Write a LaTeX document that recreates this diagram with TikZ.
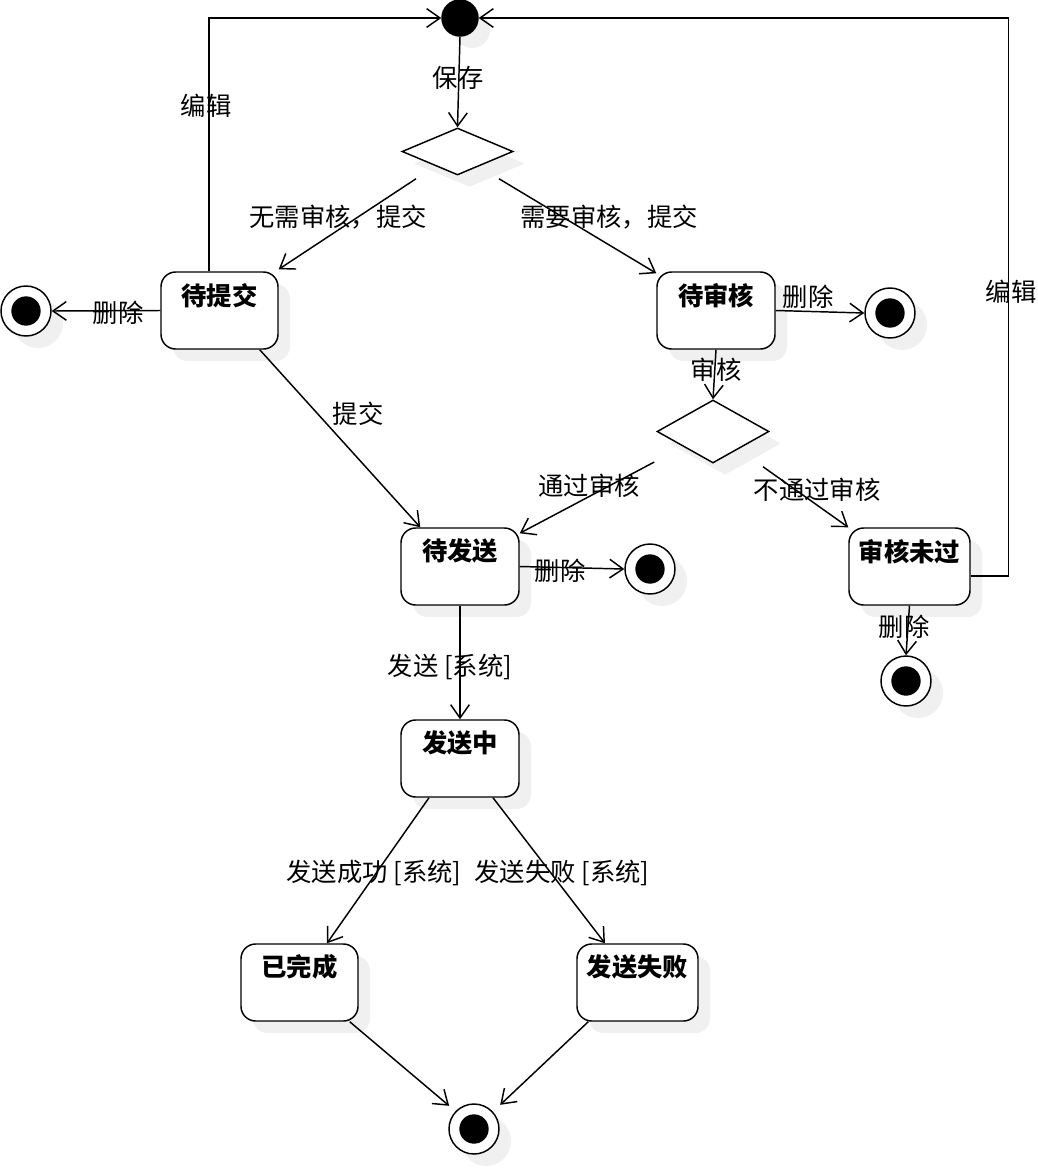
\documentclass[tikz,border=0pt]{standalone}
\usepackage{fontspec}
\setmainfont{Noto Sans CJK SC}
\usetikzlibrary{arrows.meta,shapes.geometric,shadows}
\begin{document}
\fontsize{19}{23}\selectfont
\begin{tikzpicture}[x=0.75pt,y=-0.75pt,line width=1.1pt,
  shd/.style={drop shadow={shadow xshift=9pt,shadow yshift=-9pt,fill=black!6,opacity=1,draw=none}},
  state/.style={draw,fill=white,rounded corners=11pt,minimum height=57.75pt,inner sep=0pt,shd},
  ttl/.style={font=\fontsize{19}{23}\selectfont\bfseries,anchor=center,yshift=-18pt,inner sep=0pt},
  initc/.style={circle,fill=black,draw,minimum size=27pt,inner sep=0pt,shd},
  finalc/.style={circle,draw,fill=white,minimum size=37.5pt,inner sep=0pt,shd,
    path picture={\fill[black] (path picture bounding box.center) circle (11pt);}},
  choice/.style={diamond,draw,fill=white,inner sep=0pt,shd},
  tr/.style={-{Straight Barb[length=10pt,width=14pt]}},
  lbl/.style={inner sep=0pt}]
\useasboundingbox (0,0) rectangle (1038,1168);
% nodes
\node[initc] (s0) at (460,18) {};
\node[choice,minimum width=83.25pt,minimum height=35.25pt] (d1) at (457.5,151.5) {};
\node[state,minimum width=87.75pt,label={[ttl]north:待提交}] (tj) at (219.5,310.5) {};
\node[state,minimum width=88.5pt,label={[ttl]north:待审核}] (ts) at (716,310.5) {};
\node[choice,minimum width=84pt,minimum height=47.25pt] (d2) at (713,431.5) {};
\node[state,minimum width=88.5pt,label={[ttl]north:待发送}] (tf) at (460,566.5) {};
\node[state,minimum width=90.75pt,label={[ttl]north:审核未过}] (wg) at (909.5,566.5) {};
\node[state,minimum width=88.5pt,label={[ttl]north:发送中}] (fz) at (460,758.5) {};
\node[state,minimum width=87.75pt,label={[ttl]north:已完成}] (wc) at (299.5,982.5) {};
\node[state,minimum width=90.75pt,label={[ttl]north:发送失败}] (sb) at (637.5,982.5) {};
\node[finalc] (e1) at (26,311) {};
\node[finalc] (e2) at (890,313) {};
\node[finalc] (e3) at (650,569) {};
\node[finalc] (e4) at (906,681) {};
\node[finalc] (e5) at (474,1129) {};
% edges
\draw[tr] (s0.south) -- (d1.north);
\draw[tr] ([xshift=-31.1pt,yshift=-2.25pt]d1.south) -- ([yshift=1.5pt]tj.north east);
\draw[tr] ([xshift=31.1pt,yshift=-2.25pt]d1.south) -- ([yshift=-1.5pt]ts.north west);
\draw[tr] ([xshift=-7.9pt]tj.north) |- (s0.west);
\draw[tr] ([yshift=-7.1pt]wg.east) -- ++(38,0) |- (s0.east);
\draw[tr] (tj.west) -- (e1.east);
\draw[tr] (ts.east) -- (e2.west);
\draw[tr] (ts.south) -- (d2.north);
\draw[tr] ([xshift=-14.25pt]tj.south east) -- ([xshift=15pt]tf.north west);
\draw[tr] ([xshift=-1.5pt,yshift=-22.9pt]d2.west) -- ([yshift=-4.5pt]tf.north east);
\draw[tr] ([xshift=37.5pt,yshift=-2.25pt]d2.south) -- (wg.north west);
\draw[tr] (tf.east) -- (e3.west);
\draw[tr] (wg.south) -- (e4.north);
\draw[tr] (tf.south) -- (fz.north);
\draw[tr] ([xshift=-23.25pt]fz.south) -- ([xshift=20.6pt]wc.north);
\draw[tr] ([xshift=24.75pt]fz.south) -- ([xshift=-24.4pt]sb.north);
\draw[tr] ([xshift=-6.75pt]wc.south east) -- ([xshift=-5pt,yshift=3.75pt]e5.north west);
\draw[tr] ([xshift=9pt]sb.south west) -- ([xshift=6pt,yshift=4.5pt]e5.north east);
% labels
\node[lbl] (l1) at (458,78) {保存};
\node[lbl] (l2) at (338,217) {无需审核，提交};
\node[lbl] (l3) at (609,217) {需要审核，提交};
\node[lbl] (l4) at (206,106) {编辑};
\node[lbl] (l5) at (1011,292) {编辑};
\node[lbl] (l6) at (118,313) {删除};
\node[lbl] (l7) at (808,297) {删除};
\node[lbl] (l8) at (716,370) {审核};
\node[lbl] (l9) at (358,414) {提交};
\node[lbl] (l10) at (589,486) {通过审核};
\node[lbl] (l11) at (817,490) {不通过审核};
\node[lbl] (l12) at (560,571) {删除};
\node[lbl] (l13) at (904,627) {删除};
\node[lbl] (l14) at (450,667) {发送 [系统]};
\node[lbl] (l15) at (374,873) {发送成功 [系统]};
\node[lbl] (l16) at (562,873) {发送失败 [系统]};
\end{tikzpicture}
\end{document}
